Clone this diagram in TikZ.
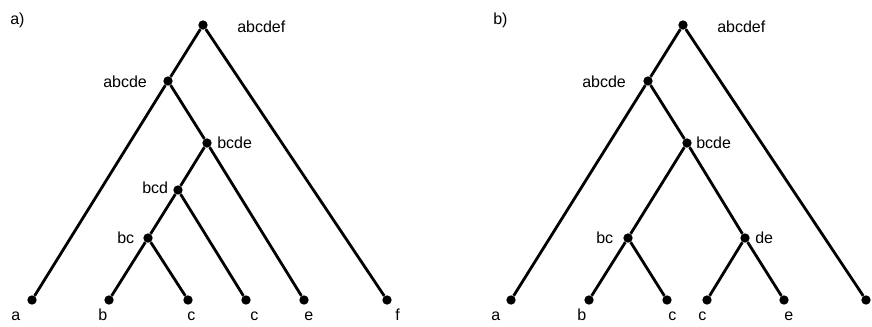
\documentclass[tikz,border=0pt]{standalone}
\usepackage{fontspec}
\setmainfont{Liberation Sans}
\usepackage{tikz}

\begin{document}
\begin{tikzpicture}[x=0.75pt,y=-0.75pt,
  dot/.style={circle,fill,inner sep=0pt,minimum size=7pt},
  branch/.style={line width=2.1pt},
  lbl/.style={anchor=base west,inner sep=0pt,font=\fontsize{12}{14}\selectfont}]
  \useasboundingbox (0,0) rectangle (872,326);
  % a)
  \node[lbl] (tagA) at (10,24) {a)};
  \node[dot] (A-abcdef) at (203,25) {};
  \node[dot] (A-abcde) at (168,81) {};
  \node[dot] (A-bcde) at (207,143) {};
  \node[dot] (A-bcd) at (178,190) {};
  \node[dot] (A-bc) at (148,238) {};
  \node[dot] (A-a) at (32,300) {};
  \node[dot] (A-b) at (109,300) {};
  \node[dot] (A-c) at (188,300) {};
  \node[dot] (A-d) at (246,300) {};
  \node[dot] (A-e) at (304,300) {};
  \node[dot] (A-f) at (387,300) {};
  \draw[branch] (A-a) -- (A-abcde) -- (A-abcdef) -- (A-f);
  \draw[branch] (A-abcde) -- (A-bcde) -- (A-e);
  \draw[branch] (A-bcde) -- (A-bcd) -- (A-d);
  \draw[branch] (A-bcd) -- (A-bc) -- (A-b);
  \draw[branch] (A-bc) -- (A-c);
  \node[lbl] (A-abcdef-l) at (237,32) {abcdef};
  \node[lbl] (A-abcde-l) at (103,87) {abcde};
  \node[lbl] (A-bcde-l) at (217,148) {bcde};
  \node[lbl] (A-bcd-l) at (142,193) {bcd};
  \node[lbl] (A-bc-l) at (117,243) {bc};
  \node[lbl] (A-a-l) at (11,320) {a};
  \node[lbl] (A-b-l) at (98,320) {b};
  \node[lbl] (A-c-l) at (187,320) {c};
  \node[lbl] (A-d-l) at (250,320) {c};
  \node[lbl] (A-e-l) at (304,320) {e};
  \node[lbl] (A-f-l) at (395,320) {f};
  % b)
  \node[lbl] (tagB) at (493,24) {b)};
  \node[dot] (B-abcdef) at (683,25) {};
  \node[dot] (B-abcde) at (648,81) {};
  \node[dot] (B-bcde) at (687,143) {};
  \node[dot] (B-bc) at (628,238) {};
  \node[dot] (B-de) at (745,238) {};
  \node[dot] (B-a) at (511,300) {};
  \node[dot] (B-b) at (589,300) {};
  \node[dot] (B-c) at (667,300) {};
  \node[dot] (B-d) at (707,300) {};
  \node[dot] (B-e) at (784,300) {};
  \node[dot] (B-f) at (866,300) {};
  \draw[branch] (B-a) -- (B-abcde) -- (B-abcdef) -- (B-f);
  \draw[branch] (B-abcde) -- (B-bcde) -- (B-de) -- (B-e);
  \draw[branch] (B-bcde) -- (B-bc) -- (B-b);
  \draw[branch] (B-bc) -- (B-c);
  \draw[branch] (B-de) -- (B-d);
  \node[lbl] (B-abcdef-l) at (717,32) {abcdef};
  \node[lbl] (B-abcde-l) at (582,87) {abcde};
  \node[lbl] (B-bcde-l) at (696,148) {bcde};
  \node[lbl] (B-bc-l) at (596,243) {bc};
  \node[lbl] (B-de-l) at (755,243) {de};
  \node[lbl] (B-a-l) at (491,320) {a};
  \node[lbl] (B-b-l) at (577,320) {b};
  \node[lbl] (B-c-l) at (668,320) {c};
  \node[lbl] (B-d-l) at (698,320) {c};
  \node[lbl] (B-e-l) at (784,320) {e};
\end{tikzpicture}
\end{document}
